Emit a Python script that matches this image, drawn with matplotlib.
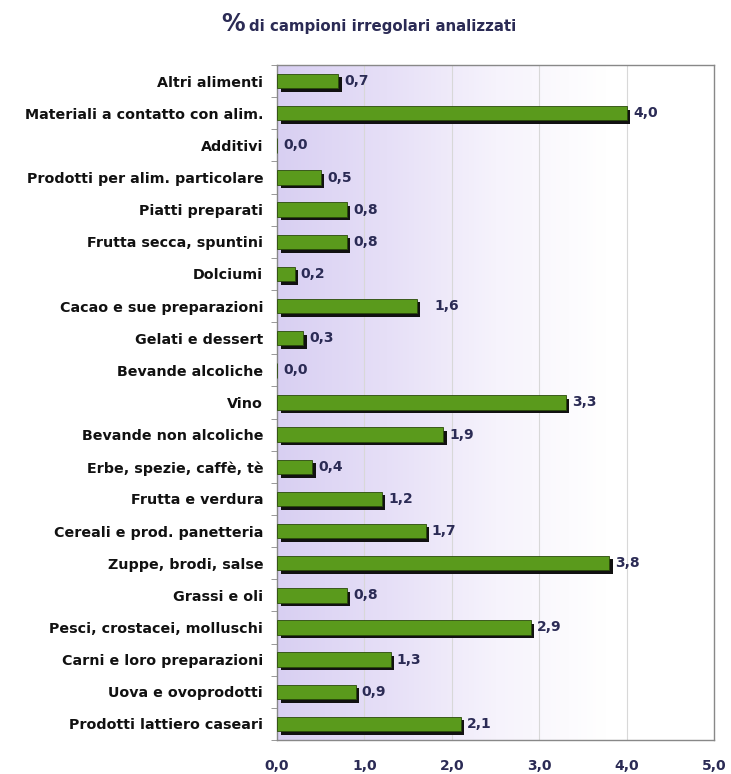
import numpy as np
import matplotlib.pyplot as plt
from matplotlib.colors import LinearSegmentedColormap

# categories listed bottom to top as they appear on the axis
categorie = ["Prodotti lattiero caseari", "Uova e ovoprodotti", "Carni e loro preparazioni",
             "Pesci, crostacei, molluschi", "Grassi e oli", "Zuppe, brodi, salse",
             "Cereali e prod. panetteria", "Frutta e verdura", "Erbe, spezie, caffè, tè",
             "Bevande non alcoliche", "Vino", "Bevande alcoliche", "Gelati e dessert",
             "Cacao e sue preparazioni", "Dolciumi", "Frutta secca, spuntini",
             "Piatti preparati", "Prodotti per alim. particolare", "Additivi",
             "Materiali a contatto con alim.", "Altri alimenti"]
percentuali = [2.1, 0.9, 1.3, 2.9, 0.8, 3.8, 1.7, 1.2, 0.4, 1.9, 3.3, 0.0, 0.3,
               1.6, 0.2, 0.8, 0.8, 0.5, 0.0, 4.0, 0.7]
xticks = [0, 1, 2, 3, 4, 5]

plt.rcParams['font.family'] = ['DejaVu Sans']
testo = '#2b2b55'

fig = plt.figure(figsize=(7.31, 7.74), dpi=100)
ax = fig.add_axes([0.379, 0.044, 0.598, 0.872])

y = np.arange(len(categorie))
ax.set_xlim(0, 5)
ax.set_ylim(-0.5, len(categorie) - 0.5)

# lavender to white gradient behind the bars
grad = np.linspace(0, 1, 256).reshape(1, -1)
cmap = LinearSegmentedColormap.from_list('sfondo', ['#d8cff2', '#e6dff7', '#f6f3fc', '#ffffff', '#ffffff'])
ax.imshow(grad, extent=[0, 5, -0.5, len(categorie) - 0.5], aspect='auto',
          cmap=cmap, zorder=0)

for xv in xticks[1:-1]:
    ax.axvline(xv, color='#d8d8d8', lw=0.8, zorder=1)

# shadow first, then the green bar
ax.barh(y - 0.11, percentuali, height=0.45, left=0.04, color='#111111', zorder=2)
ax.barh(y, percentuali, height=0.45, color='#5a9a1c', edgecolor='#2a4a0a',
        linewidth=0.6, zorder=3)

for yi, v in zip(y, percentuali):
    dx = 0.2 if v == 1.6 else 0.07
    ax.text(v + dx, yi, f"{v:.1f}".replace('.', ','), va='center', ha='left',
            fontsize=10, fontweight='bold', color=testo, zorder=4)

ax.set_yticks(y)
ax.set_yticklabels(categorie, fontsize=10.3, fontweight='bold', color='#111111')
ax.set_yticks(np.arange(-0.5, len(categorie)), minor=True)
ax.tick_params(axis='y', which='major', length=0, pad=10)
ax.tick_params(axis='y', which='minor', length=4, color='#888888')

ax.set_xticks(xticks)
ax.set_xticklabels([f"{v:.1f}".replace('.', ',') for v in xticks],
                   fontsize=10, fontweight='bold', color=testo)
ax.tick_params(axis='x', length=0, pad=14)

for s in ax.spines.values():
    s.set_color('#888888')
    s.set_linewidth(1.0)

fig.text(0.303, 0.96, '%', fontsize=17, fontweight='bold', color=testo,
         ha='left', va='baseline')
fig.text(0.340, 0.96, 'di campioni irregolari analizzati', fontsize=10.8,
         fontweight='bold', color=testo, ha='left', va='baseline')

fig.savefig('out.png', dpi=100)
